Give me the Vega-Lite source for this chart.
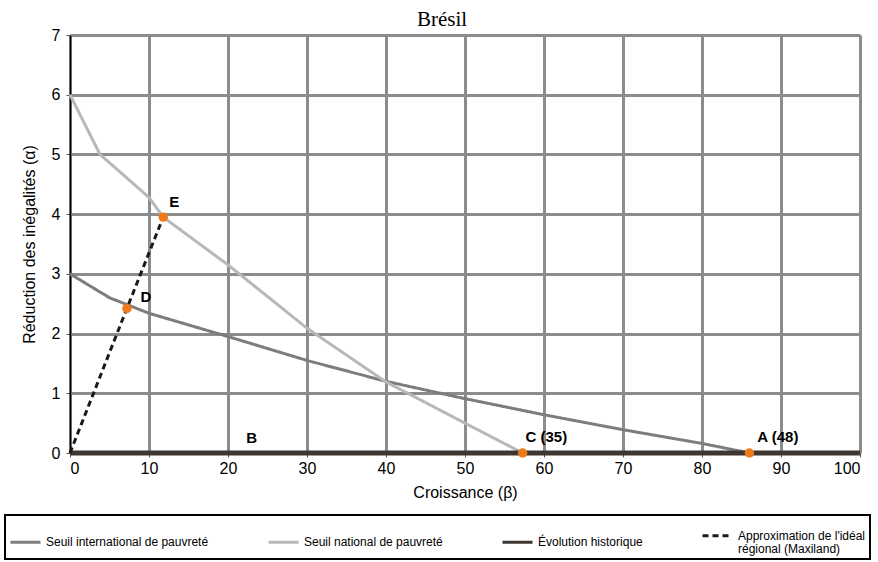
{
  "$schema": "https://vega.github.io/schema/vega-lite/v6.json",
  "width": 790,
  "height": 418,
  "autosize": {"type": "none"},
  "padding": {"left": 70, "top": 35, "right": 18, "bottom": 109},
  "background": "white",
  "title": {"text": "Brésil", "font": "Liberation Serif", "fontSize": 21, "fontWeight": "normal", "color": "black", "anchor": "middle", "dx": -23, "offset": -3},
  "datasets": {
    "lines": [
      {"series": "Seuil international de pauvreté", "x": 0, "y": 3.0},
      {"series": "Seuil international de pauvreté", "x": 5, "y": 2.6},
      {"series": "Seuil international de pauvreté", "x": 10, "y": 2.34},
      {"series": "Seuil international de pauvreté", "x": 20, "y": 1.95},
      {"series": "Seuil international de pauvreté", "x": 30, "y": 1.55},
      {"series": "Seuil international de pauvreté", "x": 40, "y": 1.2},
      {"series": "Seuil international de pauvreté", "x": 50, "y": 0.91},
      {"series": "Seuil international de pauvreté", "x": 60, "y": 0.64},
      {"series": "Seuil international de pauvreté", "x": 70, "y": 0.39},
      {"series": "Seuil international de pauvreté", "x": 80, "y": 0.16},
      {"series": "Seuil international de pauvreté", "x": 86, "y": 0.0},
      {"series": "Seuil national de pauvreté", "x": 0, "y": 6.0},
      {"series": "Seuil national de pauvreté", "x": 3.8, "y": 5.0},
      {"series": "Seuil national de pauvreté", "x": 10, "y": 4.28},
      {"series": "Seuil national de pauvreté", "x": 11.8, "y": 3.95},
      {"series": "Seuil national de pauvreté", "x": 20, "y": 3.15},
      {"series": "Seuil national de pauvreté", "x": 30, "y": 2.09},
      {"series": "Seuil national de pauvreté", "x": 40, "y": 1.19},
      {"series": "Seuil national de pauvreté", "x": 50, "y": 0.5},
      {"series": "Seuil national de pauvreté", "x": 57.3, "y": 0.0},
      {"series": "Évolution historique", "x": 0, "y": 0},
      {"series": "Évolution historique", "x": 100, "y": 0},
      {"series": "Approximation de l'idéal régional (Maxiland)", "x": 0, "y": 0},
      {"series": "Approximation de l'idéal régional (Maxiland)", "x": 7.2, "y": 2.42},
      {"series": "Approximation de l'idéal régional (Maxiland)", "x": 11.8, "y": 3.95}
    ],
    "points": [
      {"x": 11.8, "y": 3.95},
      {"x": 7.2, "y": 2.42},
      {"x": 57.3, "y": 0},
      {"x": 86, "y": 0}
    ],
    "labels": [
      {"x": 13.2, "y": 4.2, "text": "E"},
      {"x": 9.6, "y": 2.62, "text": "D"},
      {"x": 23.0, "y": 0.25, "text": "B"},
      {"x": 60.3, "y": 0.27, "text": "C (35)"},
      {"x": 89.6, "y": 0.27, "text": "A (48)"}
    ]
  },
  "layer": [
    {
      "data": {"name": "lines"},
      "mark": {"type": "line", "clip": false},
      "encoding": {
        "x": {"field": "x", "type": "quantitative", "scale": {"domain": [0, 100], "nice": false},
          "axis": {"values": [0,10,20,30,40,50,60,70,80,90,100], "title": "Croissance (β)", "grid": true}},
        "y": {"field": "y", "type": "quantitative", "scale": {"domain": [0, 7], "nice": false},
          "axis": {"values": [0,1,2,3,4,5,6,7], "format": "d", "title": "Réduction des inégalités (α)", "grid": true}},
        "color": {"field": "series", "type": "nominal",
          "scale": {"domain": ["Seuil international de pauvreté", "Seuil national de pauvreté", "Évolution historique", "Approximation de l'idéal régional (Maxiland)"],
                    "range": ["#7d7d7d", "#b8b8b8", "#3d3631", "#1a1a1a"]},
          "legend": {"title": null,
            "labelExpr": "replace(datum.label, 'idéal ', 'idéal|')",
            "encode": {"labels": {"update": {"lineBreak": {"value": "|"}, "lineHeight": {"value": 13}}}}}},
        "strokeDash": {"field": "series", "type": "nominal",
          "scale": {"domain": ["Seuil international de pauvreté", "Seuil national de pauvreté", "Évolution historique", "Approximation de l'idéal régional (Maxiland)"],
                    "range": [[1, 0], [1, 0], [1, 0], [6, 4]]},
          "legend": {"title": null,
            "labelExpr": "replace(datum.label, 'idéal ', 'idéal|')",
            "encode": {"labels": {"update": {"lineBreak": {"value": "|"}, "lineHeight": {"value": 13}}}}}},
        "strokeWidth": {"condition": {"test": "datum.series == 'Évolution historique'", "value": 5}, "value": 3},
        "order": {"field": "x", "type": "quantitative"}
      }
    },
    {
      "data": {"name": "points"},
      "mark": {"type": "point", "filled": true, "color": "#f07a1a", "size": 90, "opacity": 1, "clip": false},
      "encoding": {
        "x": {"field": "x", "type": "quantitative"},
        "y": {"field": "y", "type": "quantitative"}
      }
    },
    {
      "data": {"name": "labels"},
      "mark": {"type": "text", "font": "Liberation Sans", "fontSize": 15, "fontWeight": "bold", "color": "black", "align": "center", "baseline": "middle"},
      "encoding": {
        "x": {"field": "x", "type": "quantitative"},
        "y": {"field": "y", "type": "quantitative"},
        "text": {"field": "text"}
      }
    }
  ],
  "config": {
    "view": {"stroke": null},
    "axis": {
      "labelFont": "Liberation Sans", "labelFontSize": 16, "labelColor": "black",
      "titleFont": "Liberation Sans", "titleFontSize": 16, "titleFontWeight": "normal", "titleColor": "black",
      "gridColor": "#8c8c8c", "gridWidth": 3, "gridOpacity": 1,
      "tickColor": "#555555", "tickSize": 4, "domainColor": "black", "domainWidth": 1.5
    },
    "axisX": {"labelPadding": 3, "titlePadding": 8, "domain": false},
    "axisY": {"labelPadding": 6, "titlePadding": 14},
    "legend": {
      "orient": "none", "legendX": -65, "legendY": 480, "direction": "horizontal", "columns": 4,
      "strokeColor": "black", "strokeWidth": 2, "padding": 4, "labelLimit": 400,
      "labelFont": "Liberation Sans", "labelFontSize": 12, "labelColor": "black",
      "symbolType": "stroke", "symbolSize": 900, "symbolStrokeWidth": 3,
      "columnPadding": 53
    }
  }
}
